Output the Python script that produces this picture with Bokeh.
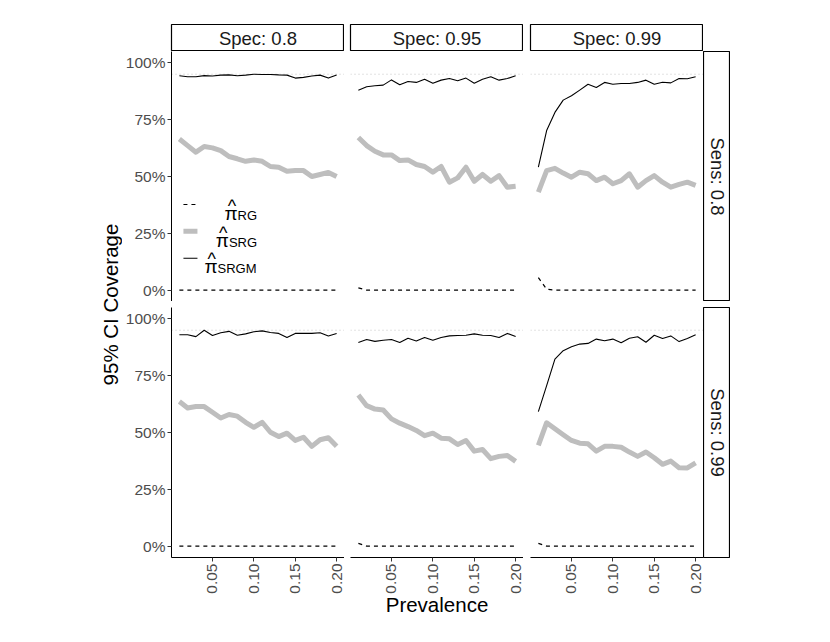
import math
from bokeh.plotting import figure
from bokeh.models import GridBox, Range1d, FixedTicker, NumeralTickFormatter, Span
from bokeh.core.properties import value
from bokeh.embed import file_html
from bokeh.resources import INLINE

FONT = "Liberation Sans"

# ---------------- data ----------------
prevalence = [0.01, 0.02, 0.03, 0.04, 0.05, 0.06, 0.07, 0.08, 0.09, 0.10,
              0.11, 0.12, 0.13, 0.14, 0.15, 0.16, 0.17, 0.18, 0.19, 0.20]

spec_labels = ["Spec: 0.8", "Spec: 0.95", "Spec: 0.99"]
sens_labels = ["Sens: 0.8", "Sens: 0.99"]
series_labels = ["RG", "SRG", "SRGM"]
y_ticks = [0, 0.25, 0.5, 0.75, 1.0]
x_ticks = [0.05, 0.10, 0.15, 0.20]
target_coverage = 0.95

# coverage in percent; Sens 0.8 row
sens80_spec80_rg = [0, 0, 0, 0, 0, 0, 0, 0, 0, 0, 0, 0, 0, 0, 0, 0, 0, 0, 0, 0]
sens80_spec80_srg = [66.5, 63.6, 60.7, 63.2, 62.6, 61.4, 58.8, 57.8, 56.7, 57.3,
                     56.7, 54.4, 54.1, 52.3, 52.6, 52.6, 50.0, 50.9, 51.8, 50.0]
sens80_spec80_srgm = [94.3, 93.9, 93.9, 94.4, 94.2, 94.6, 94.7, 94.3, 94.6, 95.0,
                      94.9, 94.9, 94.7, 94.6, 93.3, 93.6, 94.2, 94.6, 93.3, 94.7]

sens80_spec95_rg = [1.0, 0, 0, 0, 0, 0, 0, 0, 0, 0, 0, 0, 0, 0, 0, 0, 0, 0, 0, 0]
sens80_spec95_srg = [67.2, 63.6, 61.1, 59.5, 59.5, 57.0, 57.3, 55.3, 54.4, 51.9,
                     54.4, 47.5, 49.4, 54.1, 47.9, 50.9, 47.9, 50.4, 45.3, 45.7]
sens80_spec95_srgm = [88.0, 89.5, 89.9, 90.2, 92.5, 90.4, 91.8, 91.4, 92.8, 91.0,
                      92.4, 93.1, 92.1, 93.3, 91.0, 92.8, 93.9, 92.4, 93.1, 94.3]

sens80_spec99_rg = [5.5, 0.4, 0, 0, 0, 0, 0, 0, 0, 0, 0, 0, 0, 0, 0, 0, 0, 0, 0, 0]
sens80_spec99_srg = [43.1, 52.6, 53.6, 51.5, 49.7, 51.9, 51.2, 48.2, 49.7, 46.8,
                     48.2, 51.2, 45.3, 48.2, 50.4, 47.5, 45.3, 46.5, 47.5, 46.1]
sens80_spec99_srgm = [54.1, 70.2, 78.2, 83.6, 85.5, 88.0, 90.6, 89.2, 91.4, 90.6,
                      90.9, 90.9, 91.4, 92.4, 90.6, 91.5, 91.2, 93.1, 93.0, 93.9]

# Sens 0.99 row
sens99_spec80_rg = [0, 0, 0, 0, 0, 0, 0, 0, 0, 0, 0, 0, 0, 0, 0, 0, 0, 0, 0, 0]
sens99_spec80_srg = [63.6, 60.8, 61.4, 61.4, 58.9, 56.4, 57.9, 57.2, 54.5, 52.3,
                     54.5, 50.1, 48.2, 49.7, 46.5, 47.9, 43.9, 46.8, 47.7, 44.0]
sens99_spec80_srgm = [93.0, 93.0, 92.2, 95.0, 92.7, 93.9, 94.5, 92.8, 93.4, 94.3,
                      94.7, 94.0, 93.6, 91.8, 93.6, 93.6, 93.6, 93.9, 92.5, 93.6]

sens99_spec95_rg = [1.2, 0, 0, 0, 0, 0, 0, 0, 0, 0, 0, 0, 0, 0, 0, 0, 0, 0, 0, 0]
sens99_spec95_srg = [66.5, 61.8, 60.3, 59.9, 56.0, 54.1, 52.6, 50.9, 48.6, 49.7,
                     47.5, 47.2, 44.7, 46.5, 41.8, 42.5, 38.5, 39.5, 39.9, 37.3]
sens99_spec95_srgm = [89.6, 90.9, 90.1, 90.6, 90.9, 89.6, 91.5, 90.3, 91.8, 90.6,
                      91.8, 92.5, 92.7, 92.8, 93.4, 92.8, 92.7, 91.8, 93.6, 92.2]

sens99_spec99_rg = [1.2, 0, 0, 0, 0, 0, 0, 0, 0, 0, 0, 0, 0, 0, 0, 0, 0, 0, 0, 0]
sens99_spec99_srg = [44.3, 54.3, 51.6, 49.0, 46.5, 45.3, 45.0, 41.8, 43.9, 43.9,
                     43.5, 41.4, 39.5, 41.4, 38.9, 36.0, 37.4, 34.5, 34.4, 36.6]
sens99_spec99_srgm = [59.2, 70.6, 82.3, 86.0, 87.7, 88.9, 89.2, 91.1, 90.4, 91.1,
                      89.5, 91.5, 92.1, 89.7, 92.8, 91.4, 92.5, 90.0, 91.4, 93.0]

panels = [
    [(sens80_spec80_rg, sens80_spec80_srg, sens80_spec80_srgm),
     (sens80_spec95_rg, sens80_spec95_srg, sens80_spec95_srgm),
     (sens80_spec99_rg, sens80_spec99_srg, sens80_spec99_srgm)],
    [(sens99_spec80_rg, sens99_spec80_srg, sens99_spec80_srgm),
     (sens99_spec95_rg, sens99_spec95_srg, sens99_spec95_srgm),
     (sens99_spec99_rg, sens99_spec99_srg, sens99_spec99_srgm)],
]

# ---------------- layout constants ----------------
FRAME_W = 173
FRAME_H = 250
COL_LEFT = [49, 6, 7]
ROW_TOP = [0, 6]
BOTTOM_BORDER = 70
TITLE_W = 122
STRIP_W = 27
STRIP_H = 27
STRIP_TOP = 24

X0, X1 = 0.0005, 0.2095
Y0, Y1 = -0.05, 1.05

TICK_COLOR = "#4d4d4d"
TICK_SIZE = "15.5px"
STRIP_SIZE = "18.5px"
TITLE_SIZE = "20.5px"


def base_fig(width, height, **kw):
    p = figure(width=width, height=height, output_backend="svg",
               toolbar_location=None, **kw)
    p.background_fill_color = "white"
    p.border_fill_color = "white"
    return p


def style_axis(ax):
    ax.axis_line_color = "black"
    ax.axis_line_width = 1
    ax.major_tick_line_color = "#333333"
    ax.major_tick_out = 4
    ax.major_tick_in = 0
    ax.minor_tick_line_color = None
    ax.major_label_text_color = TICK_COLOR
    ax.major_label_text_font = FONT
    ax.major_label_text_font_size = TICK_SIZE
    ax.major_label_standoff = 2


def make_panel(r, c):
    rg, srg, srgm = panels[r][c]
    bottom = (r == 1)
    left = (c == 0)
    width = COL_LEFT[c] + FRAME_W
    height = ROW_TOP[r] + FRAME_H + (BOTTOM_BORDER if bottom else 0)
    p = base_fig(width, height,
                 x_range=Range1d(X0, X1), y_range=Range1d(Y0, Y1),
                 x_axis_location="below" if bottom else None,
                 y_axis_location="left" if left else None,
                 min_border_left=COL_LEFT[c], min_border_right=0,
                 min_border_top=ROW_TOP[r],
                 min_border_bottom=BOTTOM_BORDER if bottom else 0)
    p.outline_line_color = None
    p.grid.visible = False

    if bottom:
        ax = p.xaxis[0]
        style_axis(ax)
        ax.ticker = FixedTicker(ticks=x_ticks)
        ax.formatter = NumeralTickFormatter(format="0.00")
        ax.major_label_orientation = math.pi / 2
        if c == 1:
            ax.axis_label = "Prevalence"
            ax.axis_label_text_font = FONT
            ax.axis_label_text_font_size = TITLE_SIZE
            ax.axis_label_text_font_style = "normal"
            ax.axis_label_text_color = "black"
            ax.axis_label_standoff = -4
    if left:
        ay = p.yaxis[0]
        style_axis(ay)
        ay.ticker = FixedTicker(ticks=y_ticks)
        ay.formatter = NumeralTickFormatter(format="0%")

    span = Span(location=target_coverage, dimension="width",
                line_color="#c4c4c4", line_dash="1 3", line_width=1,
                level="underlay")
    p.add_layout(span)

    p.line(prevalence, [v / 100 for v in rg], line_color="black",
           line_width=1.2, line_dash="4 4")
    p.line(prevalence, [v / 100 for v in srg], line_color="#bebebe",
           line_width=5, line_join="round")
    p.line(prevalence, [v / 100 for v in srgm], line_color="black",
           line_width=1.1, line_join="round")

    if r == 0 and c == 0:
        # legend drawn inside the top-left panel (positions as frame fractions)
        def fx(f):
            return X0 + f * (X1 - X0)

        def fy(f):
            return Y1 - f * (Y1 - Y0)

        key_y = [fy(0.612), fy(0.719), fy(0.827)]
        kx0, kx1 = fx(0.069), fx(0.150)
        p.line([kx0, kx1], [key_y[0]] * 2, line_color="black",
               line_width=1.2, line_dash="4 4")
        p.line([kx0, kx1], [key_y[1]] * 2, line_color="#bebebe", line_width=5)
        p.line([kx0, kx1], [key_y[2]] * 2, line_color="black", line_width=1.1)

        lab_f = [0.382, 0.332, 0.266]
        lab_x = [fx(f) for f in lab_f]
        hat_x = [fx(f - 0.033) for f in lab_f]
        pi_y = [fy(0.649), fy(0.756), fy(0.86)]
        hat_y = [fy(0.618), fy(0.725), fy(0.829)]
        sub_y = [fy(0.657), fy(0.764), fy(0.869)]
        p.text(x=lab_x, y=pi_y, text=["\u03c0"] * 3,
               text_align="right", text_baseline="alphabetic",
               text_font=value(FONT), text_font_size="19px",
               text_color="black")
        p.text(x=hat_x, y=hat_y, text=["^"] * 3,
               text_align="center", text_baseline="alphabetic",
               text_font=value(FONT), text_font_size="18px",
               text_color="black")
        p.text(x=lab_x, y=sub_y, text=series_labels,
               text_align="left", text_baseline="alphabetic",
               text_font=value(FONT), text_font_size="13px",
               text_color="black")
    return p


def top_strip(c):
    p = base_fig(COL_LEFT[c] + FRAME_W, STRIP_TOP + STRIP_H,
                 x_range=Range1d(0, 1), y_range=Range1d(0, 1),
                 x_axis_location=None, y_axis_location=None,
                 min_border_left=COL_LEFT[c], min_border_right=0,
                 min_border_top=STRIP_TOP, min_border_bottom=0)
    p.grid.visible = False
    p.outline_line_color = "black"
    p.outline_line_width = 1.2
    p.text(x=[0.5], y=[0.5], text=[spec_labels[c]], text_align="center",
           text_baseline="middle", text_font=value(FONT),
           text_font_size=STRIP_SIZE, text_color="#1a1a1a")
    return p


def right_strip(r):
    bottom = (r == 1)
    height = ROW_TOP[r] + FRAME_H + (BOTTOM_BORDER if bottom else 0)
    p = base_fig(STRIP_W, height,
                 x_range=Range1d(0, 1), y_range=Range1d(0, 1),
                 x_axis_location=None, y_axis_location=None,
                 min_border_left=0, min_border_right=0,
                 min_border_top=ROW_TOP[r],
                 min_border_bottom=BOTTOM_BORDER if bottom else 0)
    p.grid.visible = False
    p.outline_line_color = "black"
    p.outline_line_width = 1.2
    p.text(x=[0.5], y=[0.5], text=[sens_labels[r]],
           text_align="center", text_baseline="middle", angle=-math.pi / 2,
           text_font=value(FONT), text_font_size=STRIP_SIZE,
           text_color="#1a1a1a")
    return p


def y_title():
    # the shared y-axis title is the axis label of a bare axis
    h = FRAME_H + ROW_TOP[1] + FRAME_H + BOTTOM_BORDER
    frame_h = 511
    p = base_fig(TITLE_W, h,
                 x_range=Range1d(0, 1), y_range=Range1d(0, 1),
                 x_axis_location=None, y_axis_location="left",
                 min_border_left=TITLE_W - 1, min_border_right=0,
                 min_border_top=0, min_border_bottom=h - frame_h)
    p.grid.visible = False
    p.outline_line_color = None
    ay = p.yaxis[0]
    ay.ticker = FixedTicker(ticks=[])
    ay.axis_line_color = None
    ay.major_tick_line_color = None
    ay.minor_tick_line_color = None
    ay.major_label_text_font_size = "0px"
    ay.axis_label = "95% CI Coverage"
    ay.axis_label_text_font = FONT
    ay.axis_label_text_font_size = TITLE_SIZE
    ay.axis_label_text_font_style = "normal"
    ay.axis_label_text_color = "black"
    ay.axis_label_standoff = 0
    return p


children = [(y_title(), 1, 0, 2, 1)]
for c in range(3):
    children.append((top_strip(c), 0, c + 1))
for r in range(2):
    for c in range(3):
        children.append((make_panel(r, c), r + 1, c + 1))
    children.append((right_strip(r), r + 1, 4))

grid = GridBox(children=children, spacing=0)

with open("out.html", "w") as f:
    f.write(file_html(grid, INLINE))
